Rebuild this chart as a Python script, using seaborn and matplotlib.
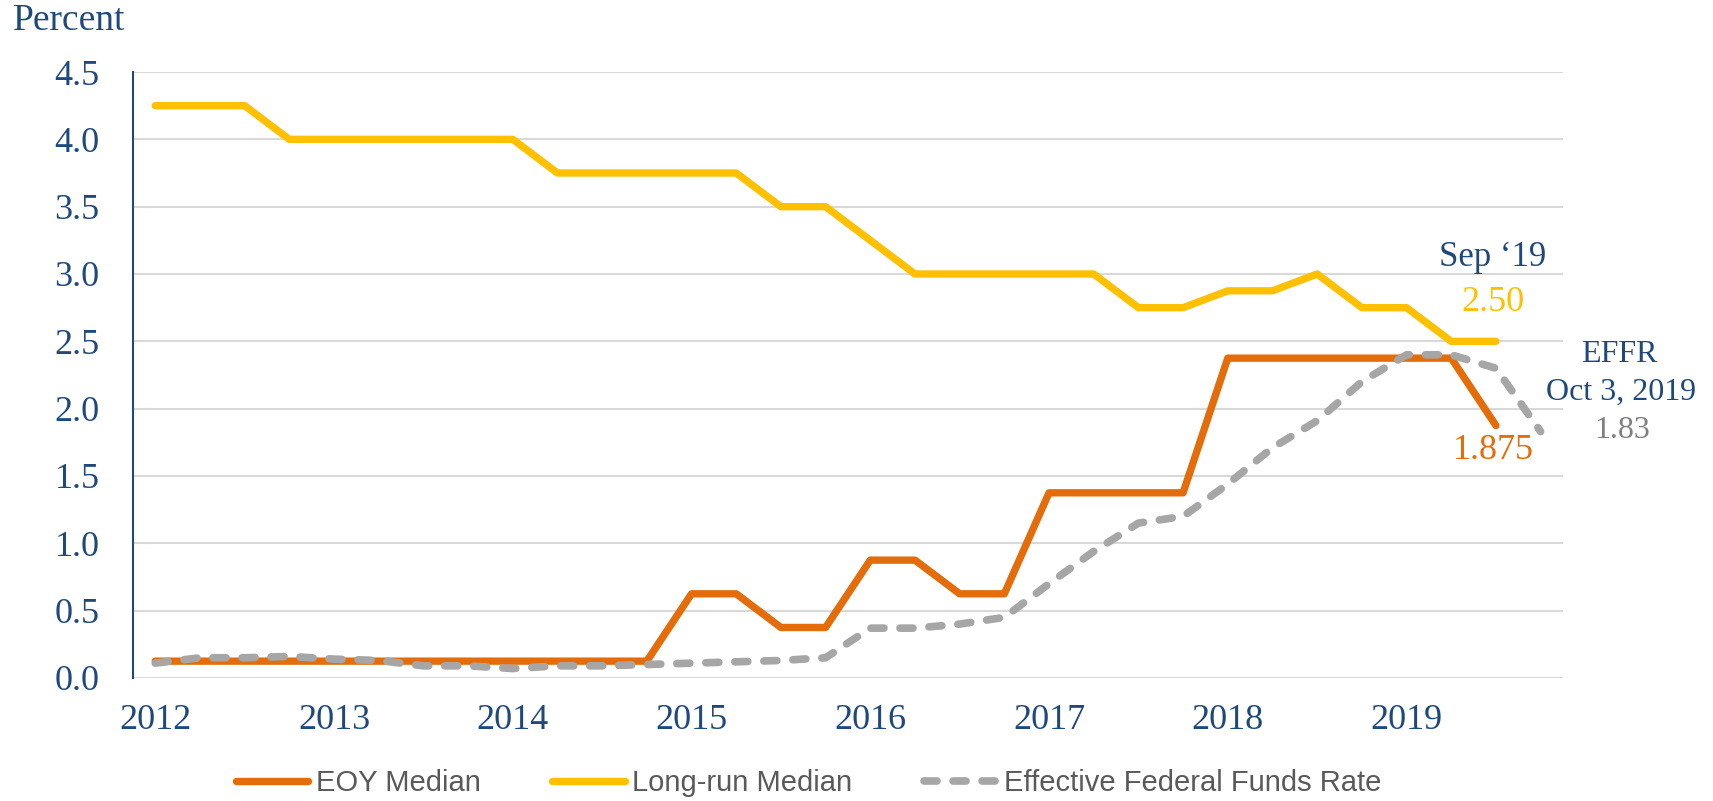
import seaborn as sns
import matplotlib.pyplot as plt
import pandas as pd

# Quarterly SEP points, Jan 2012 .. Sep 2019 (31), EFFR has one more (Oct 3, 2019)
year_labels = ["2012", "2013", "2014", "2015", "2016", "2017", "2018", "2019"]

eoy_median = [0.125, 0.125, 0.125, 0.125, 0.125, 0.125, 0.125, 0.125,
              0.125, 0.125, 0.125, 0.125, 0.625, 0.625, 0.375, 0.375,
              0.875, 0.875, 0.625, 0.625, 1.375, 1.375, 1.375, 1.375,
              2.375, 2.375, 2.375, 2.375, 2.375, 2.375, 1.875]

longrun_median = [4.25, 4.25, 4.25, 4.0, 4.0, 4.0, 4.0, 4.0,
                  4.0, 3.75, 3.75, 3.75, 3.75, 3.75, 3.5, 3.5,
                  3.25, 3.0, 3.0, 3.0, 3.0, 3.0, 2.75, 2.75,
                  2.875, 2.875, 3.0, 2.75, 2.75, 2.5, 2.5]

effr = [0.11, 0.15, 0.15, 0.16, 0.14, 0.13, 0.09, 0.09,
        0.07, 0.09, 0.09, 0.10, 0.11, 0.12, 0.13, 0.15,
        0.37, 0.37, 0.40, 0.45, 0.70, 0.94, 1.15, 1.20,
        1.44, 1.71, 1.91, 2.20, 2.40, 2.40, 2.30, 1.83]

BLUE = "#1F497D"
ORANGE = "#E46C0A"
GOLD = "#FFC000"
GRAY = "#A6A6A6"

sns.set_theme(style="white")
plt.rcParams["font.family"] = ["Liberation Serif", "DejaVu Serif"]

df_eoy = pd.DataFrame({"q": range(len(eoy_median)), "v": eoy_median})
df_lr = pd.DataFrame({"q": range(len(longrun_median)), "v": longrun_median})
df_ef = pd.DataFrame({"q": range(len(effr)), "v": effr})

fig = plt.figure(figsize=(17.13, 8.01), dpi=100)
ax = fig.add_axes([0.0776, 0.1536, 0.8348, 0.7565])

sns.lineplot(data=df_eoy, x="q", y="v", ax=ax, color=ORANGE, lw=5.3,
             solid_capstyle="round", label="EOY Median")
sns.lineplot(data=df_lr, x="q", y="v", ax=ax, color=GOLD, lw=5.3,
             solid_capstyle="round", label="Long-run Median")
sns.lineplot(data=df_ef, x="q", y="v", ax=ax, color=GRAY, lw=5.5,
             linestyle=(0, (1.7, 2.1)), dash_capstyle="round",
             label="Effective Federal Funds Rate")

ax.set_xlim(-0.5, 31.5)
ax.set_ylim(0, 4.5)
ax.set_yticks([0, 0.5, 1.0, 1.5, 2.0, 2.5, 3.0, 3.5, 4.0, 4.5])
ax.set_yticklabels([f"{v:.1f}" for v in ax.get_yticks()])
ax.set_xticks(range(0, 29, 4))
ax.set_xticklabels(year_labels)
ax.set_xlabel("")
ax.set_ylabel("")
ax.yaxis.grid(True, color="#D9D9D9", lw=1.5)
ax.set_axisbelow(True)
for s in ["top", "right", "bottom"]:
    ax.spines[s].set_visible(False)
ax.spines["left"].set_color(BLUE)
ax.spines["left"].set_linewidth(1.5)
ax.tick_params(axis="y", length=0, pad=24, labelsize=26, labelcolor=BLUE)
ax.tick_params(axis="x", length=0, pad=19, labelsize=26, labelcolor=BLUE)

fig.text(0.0076, 0.974, "Percent", fontsize=27, color=BLUE, va="center", ha="left")

# end labels
ax.text(29.93, 3.12, "Sep \u201819", fontsize=25, color=BLUE, ha="center", va="center", clip_on=False)
ax.text(29.93, 2.785, "2.50", fontsize=26, color=GOLD, ha="center", va="center", clip_on=False)
ax.text(29.95, 1.69, "1.875", fontsize=26, color=ORANGE, ha="center", va="center", clip_on=False)
ax.text(32.77, 2.40, "EFFR", fontsize=23, color=BLUE, ha="center", va="center", clip_on=False)
ax.text(32.8, 2.12, "Oct 3, 2019", fontsize=23, color=BLUE, ha="center", va="center", clip_on=False)
ax.text(32.82, 1.84, "1.83", fontsize=23, color="#808080", ha="center", va="center", clip_on=False)

handles, labels = ax.get_legend_handles_labels()
ax.get_legend().remove()
leg = fig.legend(handles, labels, loc="center", bbox_to_anchor=(0.472, 0.022), ncol=3,
                 frameon=False, handlelength=2.5, columnspacing=2.45, handletextpad=0.25,
                 prop={"family": ["Liberation Sans Narrow", "Liberation Sans"], "size": 21})
for t in leg.get_texts():
    t.set_color("#595959")

fig.savefig("out.png", dpi=100)
plt.close(fig)
